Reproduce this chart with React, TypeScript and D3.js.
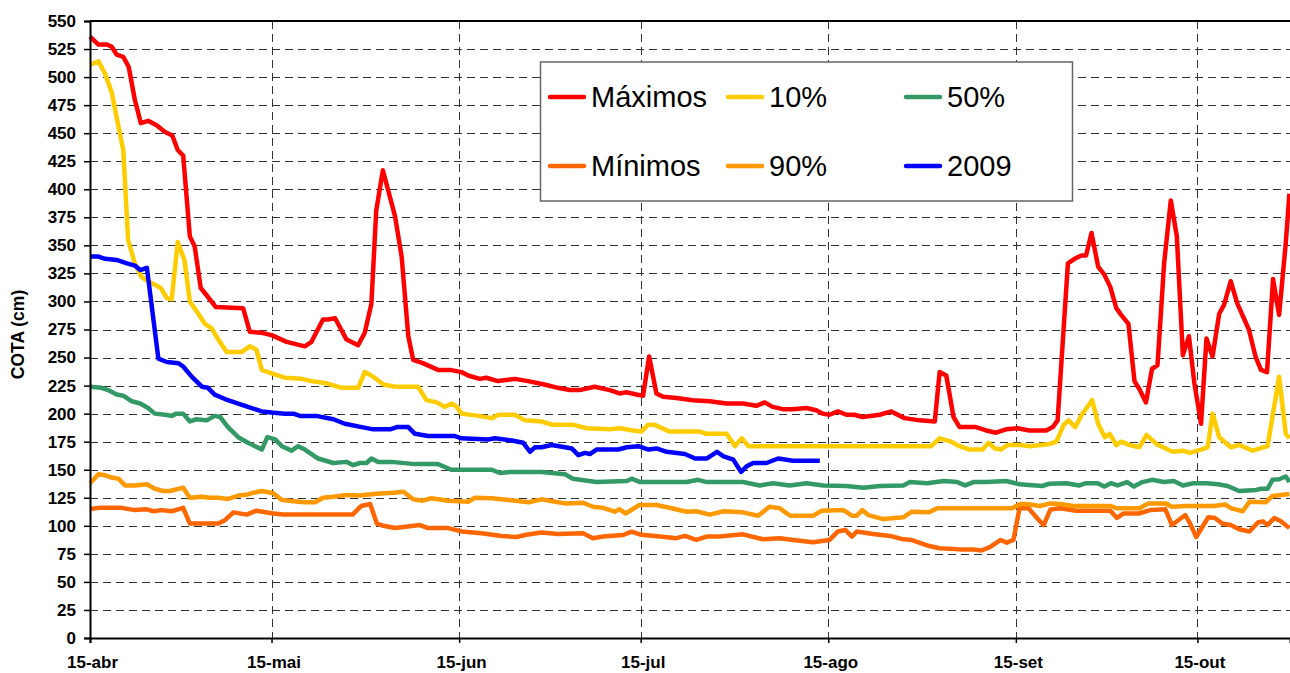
import { useEffect, useRef } from 'react';
import * as d3 from 'd3';

// day offsets counted from 15-abr, value = cota (cm)
const maximos: [number, number][] = [
    [0, 536], [1.4, 529], [2.8, 529], [3.6, 527], [4.4, 520], [5.5, 518], [6.4, 509], [7.4, 480], [8.4, 459],
    [9.6, 461], [11, 457], [12.4, 451], [13.6, 448], [14.5, 435], [15.4, 430], [16.5, 358], [17.3, 349],
    [18.3, 312], [19.5, 304], [20.8, 295], [25.3, 294], [26.4, 273], [28.4, 272], [30, 270], [32.5, 264],
    [35.5, 260], [36.6, 264], [38.5, 284], [39.3, 284], [40.5, 285], [42.4, 266], [44.3, 261], [45.4, 272],
    [46.5, 298], [47.3, 381], [48.4, 417], [50.4, 376], [51.5, 340], [52.6, 269], [53.4, 248], [55, 245],
    [57.5, 239], [59.5, 239], [61.4, 237], [62.5, 234], [64.4, 231], [65.5, 232], [67.4, 229], [70.2, 231],
    [72.4, 229], [75.1, 226], [77.3, 223], [79.3, 221], [80.9, 221], [83.4, 224], [85.9, 221], [87.5, 218],
    [88.6, 219], [90.3, 217], [91.4, 216], [92.4, 251], [93.6, 218], [94.7, 215], [96.9, 214], [99.6, 212],
    [102.4, 211], [105.2, 209], [107.9, 209], [110.1, 207], [111.5, 210], [112.8, 206], [114.5, 204],
    [116.1, 204], [118.4, 205], [120, 203], [121.1, 200], [122.2, 199], [123.6, 202], [125, 199], [126.3, 199],
    [127.7, 197], [130.5, 199], [132.4, 202], [134.6, 196], [137.1, 194], [139.6, 193], [140.4, 237],
    [141.5, 234], [142.7, 197], [143.7, 188], [146.4, 188], [148.1, 185], [149.7, 183], [151.4, 186],
    [153.3, 187], [155.2, 185], [158, 185], [159.1, 188], [159.9, 194], [161.6, 334], [162.7, 338],
    [163.8, 341], [164.6, 341], [165.5, 361], [166.6, 331], [167.6, 324], [168.6, 313], [169.6, 294],
    [170.4, 288], [171.6, 280], [172.6, 229], [173.4, 222], [174.5, 210], [175.5, 240], [176.4, 243],
    [177.5, 334], [178.6, 390], [179.6, 358], [180.6, 252], [181.6, 269], [182.5, 227], [183.6, 191],
    [184.5, 267], [185.5, 251], [186.6, 289], [187.4, 297], [188.5, 318], [189.6, 298], [191.5, 275],
    [192.6, 251], [193.5, 239], [194.5, 237], [195.5, 320], [196.5, 288], [197.6, 352], [198.2, 396]
];

const p10: [number, number][] = [
    [0, 511], [1.4, 514], [2.5, 503], [3.6, 486], [4.7, 456], [5.5, 435], [6.3, 355], [7.4, 334], [8.5, 322],
    [9.6, 318], [10.7, 315], [11.7, 312], [12.7, 303], [13.5, 302], [14.5, 353], [15.6, 337], [16.5, 300],
    [17.9, 289], [19, 280], [20.1, 276], [21.2, 266], [22.6, 255], [25.1, 255], [26.4, 260], [27.5, 257],
    [28.4, 239], [30, 236], [32.2, 232], [35, 231], [36.6, 229], [39.1, 227], [41.6, 223], [44.3, 223],
    [45.4, 237], [46.5, 234], [48.5, 226], [50.4, 224], [54.2, 224], [55.6, 212], [57.3, 210], [58.6, 206],
    [59.8, 209], [60.6, 206], [61.4, 200], [64.2, 198], [66.4, 196], [67.5, 199], [70.2, 199], [71.9, 194],
    [74.6, 193], [76.5, 190], [79.9, 190], [82.1, 187], [85.9, 186], [87.6, 187], [89.7, 185], [91.1, 184],
    [92.2, 190], [93.3, 190], [95.8, 184], [100.8, 184], [101.9, 182], [105.2, 182], [106.6, 171],
    [107.7, 178], [108.8, 171], [139, 171], [140.4, 178], [142.3, 175], [143.7, 171], [145.3, 168],
    [147.5, 168], [148.5, 174], [149.5, 169], [150.5, 168], [151.6, 172], [153.8, 172], [155.2, 171],
    [158.6, 173], [159.7, 175], [160.9, 190], [161.7, 194], [162.8, 188], [163.9, 199], [165.6, 212],
    [166.6, 191], [167.7, 179], [168.5, 182], [169.6, 172], [170.4, 175], [171.8, 172], [173.4, 170],
    [174.6, 181], [176.2, 173], [178.9, 166], [180.6, 167], [181.7, 165], [183.6, 168], [184.7, 170],
    [185.5, 200], [186.6, 179], [188.5, 170], [189.9, 172], [192.1, 167], [194.6, 171], [196.5, 233],
    [197.6, 182], [198.2, 178]
];

const p50: [number, number][] = [
    [0, 224], [1.9, 223], [3, 221], [4.4, 217], [5.5, 216], [6.9, 211], [8.3, 209], [9.6, 205], [10.7, 200],
    [12.4, 199], [13.5, 198], [14.3, 200], [15.4, 200], [16.5, 193], [17.6, 195], [19.3, 194], [20.6, 198],
    [21.5, 197], [22.8, 188], [24.5, 179], [26.1, 174], [28.4, 168], [29.3, 179], [30.6, 177], [31.7, 171],
    [33.3, 167], [34.4, 171], [35.5, 168], [36.3, 165], [37.7, 160], [40.2, 156], [42.4, 157], [43.5, 154],
    [44.6, 156], [45.7, 156], [46.5, 160], [47.6, 157], [49.8, 157], [53.7, 155], [57.5, 155], [59.7, 150],
    [66.4, 150], [67.8, 147], [69.4, 148], [74.6, 148], [78.5, 146], [79.8, 142], [83.7, 139], [88.7, 140],
    [89.5, 142], [90.9, 139], [98.6, 139], [100.5, 141], [101.9, 139], [107.9, 139], [110.7, 136],
    [112.9, 138], [115.6, 136], [118.4, 138], [121.2, 136], [125, 135.5], [127.8, 134], [130.5, 135.5],
    [134.4, 136], [135.5, 139], [138.3, 138], [141.1, 140], [143.3, 139], [144.6, 136], [146, 139],
    [148.2, 139], [151.4, 140], [153.6, 137], [157.4, 135.5], [158.5, 137.5], [161.3, 138], [163.5, 136],
    [164.6, 138], [166.5, 138], [167.6, 135], [168.7, 138], [169.8, 136], [171.4, 139], [172.5, 135],
    [173.9, 139], [175.5, 141], [177.5, 139], [179.1, 140], [180.6, 136], [182.3, 138], [184.5, 138],
    [186.4, 137], [188, 135.5], [189.9, 131], [192.7, 132], [193.5, 133], [194.6, 133], [195.4, 141],
    [196.5, 141.5], [197.6, 144], [198.2, 139]
];

const minimos: [number, number][] = [
    [0, 115], [1.4, 116], [5.2, 116], [7.4, 114], [9.4, 114.7], [10.5, 113], [11.8, 114], [13.5, 113],
    [15.4, 116], [16.5, 102], [21.2, 102], [22.3, 105], [23.7, 112], [25.9, 110], [27.5, 113.5], [30.3, 111],
    [31.9, 110], [43.4, 110], [44.8, 117.7], [46.3, 119.5], [47.4, 102], [48.5, 100], [50.4, 98], [51.8, 99],
    [54.5, 100.7], [55.9, 98], [59.2, 98], [61.4, 95], [64.7, 93.3], [68, 91], [70.5, 90], [72.1, 92],
    [74.6, 94], [77.3, 92.7], [81.5, 93.3], [83.1, 89], [84.8, 90.4], [88.1, 91.8], [89.5, 94.8], [91.1, 92],
    [94.2, 90.4], [96.9, 89], [98.3, 91], [100.2, 87.4], [101.9, 90.4], [104, 90.4], [107.9, 92.4],
    [111.2, 88], [114, 89], [116.2, 87.4], [119.5, 85.3], [122.2, 87.4], [123.6, 95], [124.8, 96.3],
    [125.9, 90.4], [126.7, 95], [129.4, 92.7], [132.2, 91], [134.1, 88.3], [135.7, 87.4], [138.7, 82],
    [140.4, 80], [143.7, 79], [145.9, 79], [147.3, 78], [148.7, 81], [150.5, 87.4], [151.5, 85],
    [152.6, 87.4], [153.6, 115.6], [155.1, 115.6], [156.8, 105], [157.6, 100.7], [158.7, 114.5],
    [160.3, 115.6], [163, 113.5], [168.6, 113.5], [169.7, 107], [170.8, 111], [173.3, 111], [175.2, 114],
    [177.7, 114.7], [178.8, 100.7], [181, 109.6], [181.8, 102], [182.8, 90], [184.8, 107.6], [185.9, 107],
    [187.1, 102], [188.5, 100.7], [189.9, 97], [191.6, 95], [193, 103], [193.8, 104], [194.6, 100.7],
    [195.7, 107], [196.8, 104], [198.2, 98]
];

const p90: [number, number][] = [
    [0, 138], [1.4, 146], [2.5, 145], [3.6, 143], [4.7, 142], [5.8, 136], [7.4, 136], [9.4, 137], [10.7, 133],
    [12.1, 131], [13.2, 131], [15.4, 134], [16.5, 125], [18.5, 126], [19.8, 125], [21.2, 125], [22.8, 124],
    [24.5, 127], [26.1, 128], [27, 129.5], [28.4, 131], [30.3, 129], [31.7, 123], [33.6, 122], [35.5, 121],
    [37.2, 121], [38.5, 125], [40.2, 126], [42.4, 127.5], [44.6, 127], [47.3, 128.5], [50.1, 129.5],
    [51.8, 130.4], [53.4, 123.6], [55, 122.4], [56.4, 124.6], [59.2, 122.4], [62.5, 121.5], [63.6, 125],
    [66.4, 124.6], [69.2, 123], [72.5, 121], [74.6, 123.6], [76.9, 121.5], [78.5, 120], [81.5, 120.6],
    [83.1, 117], [84.8, 116], [86.7, 112.6], [87.5, 114.7], [88.5, 111], [90.8, 118.6], [93.6, 118.6],
    [96.1, 115.6], [98.6, 112.6], [100.2, 113], [102.4, 110], [104.7, 113], [107.9, 112], [110.4, 109],
    [112.3, 117], [114, 115.6], [115.7, 109], [119.5, 109], [120.9, 113.5], [124.5, 114], [125.9, 109],
    [126.7, 109], [127.6, 114], [128.6, 109.6], [131.1, 106], [134.4, 107.6], [135.8, 112.6], [138.6, 112],
    [140, 115.6], [152.4, 115.6], [153.7, 119.5], [154.8, 119.5], [157, 117.7], [158.7, 120], [160.3, 119.5],
    [162.5, 117.7], [168.6, 117.7], [169.7, 115.6], [173.4, 115.6], [174.9, 120], [177.7, 120], [178.8, 117],
    [181, 117.7], [185.7, 117.7], [187.6, 119], [188.6, 115.6], [190.5, 113], [191.6, 121.5], [194.3, 121],
    [195.4, 126.6], [198.2, 128.4]
];

const ano2009: [number, number][] = [
    [0, 340], [1.4, 340], [2.5, 338], [4.4, 337], [6.1, 334], [7.4, 332], [8.3, 328], [9.4, 330], [11.3, 249],
    [12.7, 246], [14.6, 245], [15.4, 242], [16.8, 233], [18.5, 224], [19.5, 223], [20.6, 217], [22.3, 213],
    [24.5, 209], [26.1, 206], [28.4, 202], [30, 201], [32.2, 200], [33.6, 200], [34.7, 198], [37.4, 198],
    [40.2, 195], [42.1, 191], [44.9, 188], [46.8, 186], [49.6, 186], [50.7, 188], [52.6, 188], [53.7, 182],
    [55.9, 180], [60.3, 180], [61.4, 178], [65.8, 177], [66.9, 178], [69.7, 176], [71.6, 174], [72.7, 166],
    [73.5, 170], [74.6, 170], [76.3, 172], [78.5, 170], [79.6, 169], [80.7, 163], [81.8, 165], [82.6, 164],
    [83.7, 168], [87.3, 168], [88.7, 170], [90.6, 171], [92.3, 168], [93.6, 169], [95.3, 166], [98.3, 164],
    [100, 160], [101.9, 160], [103.6, 166], [104.7, 162], [106.3, 159], [107.6, 148], [108.5, 153],
    [109.6, 156], [111.8, 156], [113.7, 160], [116.2, 158], [120.6, 158]
];

const seriesNames = ['Máximos', '10%', '50%', 'Mínimos', '90%', '2009'];
const seriesColors = ['#FF0000', '#FFCC00', '#339966', '#FF6600', '#FF9900', '#0000FF'];
const seriesData = [maximos, p10, p50, minimos, p90, ano2009];

const tickDays = [0, 30, 61, 91, 122, 153, 183];
const tickLabels = ['15-abr', '15-mai', '15-jun', '15-jul', '15-ago', '15-set', '15-out'];
const yTicks = d3.range(0, 551, 25);

const FONT = '"Liberation Sans", Arial, sans-serif';

const App = () => {
    const svgRef = useRef<SVGSVGElement>(null);

    useEffect(() => {
        if (!svgRef.current) return;
        const svg = d3.select(svgRef.current);
        svg.selectAll('*').remove();

        const left = 90, right = 1290, top = 21, bottom = 638;

        const x = d3.scaleLinear().domain([0, 198.3]).range([left, right]);
        const y = d3.scaleLinear().domain([0, 550]).range([bottom, top]);

        // horizontal grid
        svg.append('g')
            .selectAll('line')
            .data(yTicks.filter(v => v > 0 && v < 550))
            .enter().append('line')
            .attr('x1', left).attr('x2', right)
            .attr('y1', d => Math.round(y(d)) + 0.5).attr('y2', d => Math.round(y(d)) + 0.5)
            .attr('stroke', '#333')
            .attr('stroke-width', 1)
            .attr('stroke-dasharray', '8,5');

        // vertical grid
        svg.append('g')
            .selectAll('line')
            .data(tickDays.filter(d => d > 0))
            .enter().append('line')
            .attr('x1', d => Math.round(x(d)) + 0.5).attr('x2', d => Math.round(x(d)) + 0.5)
            .attr('y1', top).attr('y2', bottom)
            .attr('stroke', '#333')
            .attr('stroke-width', 1)
            .attr('stroke-dasharray', '8,5');

        // series lines
        const line = d3.line<[number, number]>()
            .x(d => x(d[0]))
            .y(d => y(d[1]));

        seriesData.forEach((s, i) => {
            svg.append('path')
                .datum(s)
                .attr('fill', 'none')
                .attr('stroke', seriesColors[i])
                .attr('stroke-width', 4.5)
                .attr('stroke-linejoin', 'round')
                .attr('d', line);
        });

        // top border
        svg.append('line')
            .attr('x1', left).attr('x2', right)
            .attr('y1', top).attr('y2', top)
            .attr('stroke', '#000').attr('stroke-width', 2);

        // Y axis
        const yAxis = svg.append('g')
            .attr('transform', `translate(${left},0)`)
            .call(d3.axisLeft(y).tickValues(yTicks).tickSize(6).tickPadding(8).tickFormat(d3.format('d')));
        yAxis.select('.domain').attr('stroke', '#000').attr('stroke-width', 2);
        yAxis.selectAll('.tick line').attr('stroke', '#000').attr('stroke-width', 1.5);
        yAxis.selectAll('.tick text')
            .attr('fill', '#000')
            .style('font-family', FONT)
            .style('font-size', '17px')
            .style('font-weight', 'bold');

        // X axis
        const xAxis = svg.append('g')
            .attr('transform', `translate(0,${bottom})`)
            .call(d3.axisBottom(x).tickValues(tickDays).tickSize(5).tickPadding(13)
                .tickFormat((_, i) => tickLabels[i]));
        xAxis.select('.domain').attr('stroke', '#000').attr('stroke-width', 2);
        xAxis.selectAll('.tick line').attr('stroke', '#000').attr('stroke-width', 1.5);
        xAxis.selectAll('.tick text')
            .attr('fill', '#000')
            .attr('dx', 2)
            .style('font-family', FONT)
            .style('font-size', '17px')
            .style('font-weight', 'bold');

        // Y title
        svg.append('text')
            .attr('transform', `translate(24,${(top + bottom) / 2 + 5}) rotate(-90)`)
            .attr('text-anchor', 'middle')
            .style('font-family', FONT)
            .style('font-size', '17.5px')
            .style('font-weight', 'bold')
            .text('COTA (cm)');

        // legend
        const lg = svg.append('g');
        lg.append('rect')
            .attr('x', 540.5).attr('y', 62)
            .attr('width', 532).attr('height', 139)
            .attr('fill', '#fff')
            .attr('stroke', '#666')
            .attr('stroke-width', 1.5);

        const colX = [548, 726, 904];
        const rowY = [97, 166];
        seriesNames.forEach((name, i) => {
            const cx = colX[i % 3];
            const cy = rowY[Math.floor(i / 3)];
            lg.append('line')
                .attr('x1', cx + 2).attr('x2', cx + 36)
                .attr('y1', cy).attr('y2', cy)
                .attr('stroke', seriesColors[i])
                .attr('stroke-width', 4.5)
                .attr('stroke-linecap', 'round');
            lg.append('text')
                .attr('x', cx + 43)
                .attr('y', cy + 10)
                .style('font-family', FONT)
                .style('font-size', '29px')
                .attr('fill', '#000')
                .text(name);
        });
    }, []);

    return (
        <svg
            ref={svgRef}
            width={1290}
            height={673}
            style={{ position: 'absolute', left: 0, top: 0, background: '#fff' }}
        />
    );
};

export default App;
